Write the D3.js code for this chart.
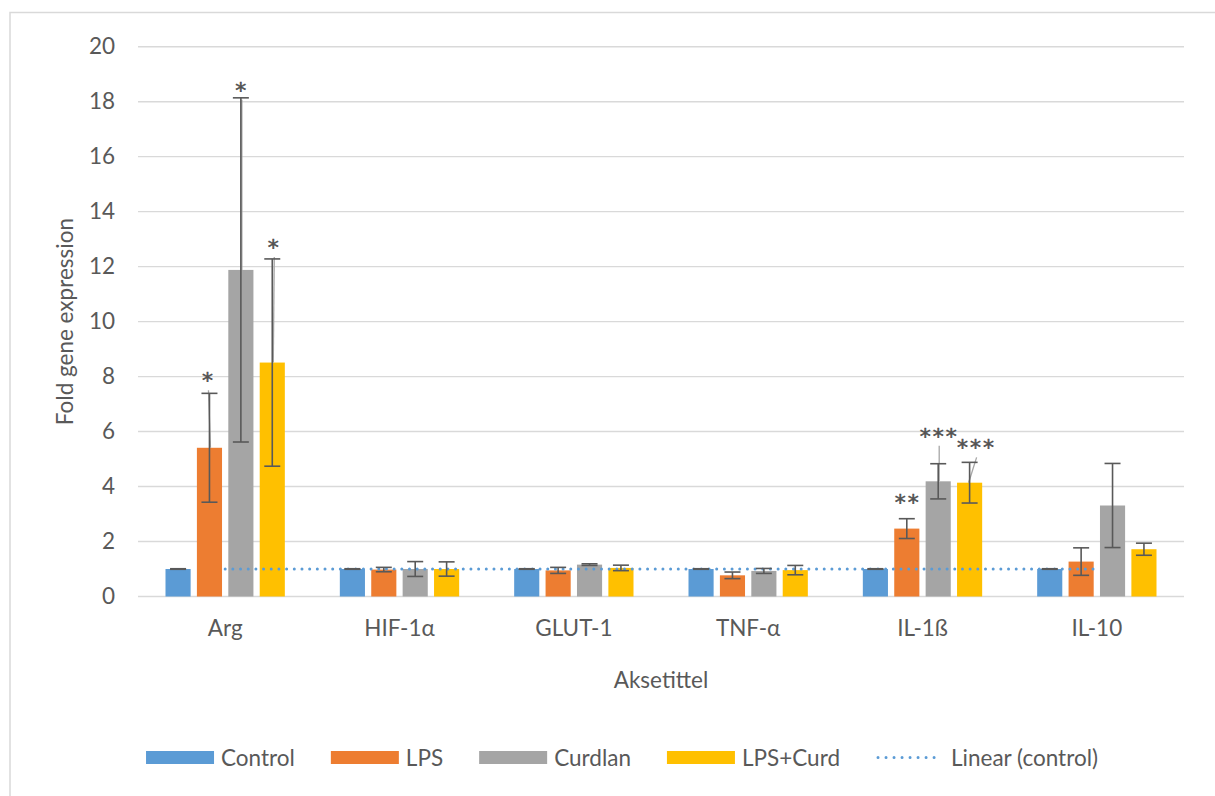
<!DOCTYPE html>
<html>
<head>
<meta charset="utf-8">
<script src="https://cdn.jsdelivr.net/npm/d3@7"></script>
<style>
  html, body { margin: 0; padding: 0; background: #fff; }
  svg { display: block; }
  text { font-family: Lato, "Open Sans", sans-serif; fill: #595959; }
</style>
</head>
<body>
<svg id="chart" width="1215" height="796"></svg>
<script>
// Gene expression data (fold change vs. control)
const genes = ["Arg", "HIF-1\u03b1", "GLUT-1", "TNF-\u03b1", "IL-1\u00df", "IL-10"];
const seriesNames = ["Control", "LPS", "Curdlan", "LPS+Curd"];

const controlVals = [1.0, 1.0, 1.0, 1.0, 1.0, 1.0];
const lpsVals     = [5.41, 0.98, 0.95, 0.77, 2.47, 1.27];
const curdlanVals = [11.88, 1.0, 1.16, 0.93, 4.19, 3.31];
const lpsCurdVals = [8.51, 1.0, 1.04, 0.96, 4.14, 1.72];

// Error bar half-widths (±)
const controlErr = [0.01, 0.01, 0.01, 0.01, 0.01, 0.01];
const lpsErr     = [1.98, 0.08, 0.11, 0.12, 0.36, 0.50];
const curdlanErr = [6.26, 0.27, 0.03, 0.09, 0.64, 1.53];
const lpsCurdErr = [3.77, 0.26, 0.10, 0.17, 0.74, 0.22];

// Significance labels per series / gene
const controlSig = ["", "", "", "", "", ""];
const lpsSig     = ["*", "", "", "", "**", ""];
const curdlanSig = ["*", "", "", "", "***", ""];
const lpsCurdSig = ["*", "", "", "", "***", ""];

const yTicks = [0, 2, 4, 6, 8, 10, 12, 14, 16, 18, 20];

const colors = ["#5B9BD5", "#ED7D31", "#A5A5A5", "#FFC000"];
const values = [controlVals, lpsVals, curdlanVals, lpsCurdVals];
const errors = [controlErr, lpsErr, curdlanErr, lpsCurdErr];
const sigs   = [controlSig, lpsSig, curdlanSig, lpsCurdSig];

// Label nudges (px) for significance marks: [dx, dy] relative to default spot
const sigNudge = {
  "0-1": [-2, -1], "0-2": [0, 4], "0-3": [1, 0],
  "4-1": [0, -5], "4-2": [0, -16], "4-3": [6, -3]
};

const FONT = "Lato, 'Open Sans', sans-serif";
const FS = "22.5px";

const svg = d3.select("#chart");
const m = { left: 138, right: 1184, top: 46.7, bottom: 596.5 };

// Chart frame
svg.append("rect")
  .attr("x", 10).attr("y", 12.5)
  .attr("width", 1230).attr("height", 800)
  .attr("fill", "none").attr("stroke", "#d9d9d9").attr("stroke-width", 1.5);

const x = d3.scaleBand().domain(genes).range([m.left, m.right]).paddingInner(0).paddingOuter(0);
const y = d3.scaleLinear().domain([0, 20]).range([m.bottom, m.top]);

const groupPad = 27.5;
const xs = d3.scaleBand().domain(seriesNames)
  .range([groupPad, x.bandwidth() - groupPad]).paddingInner(0.2).paddingOuter(0);

// Gridlines
svg.append("g").selectAll("line").data(yTicks).join("line")
  .attr("x1", m.left).attr("x2", m.right)
  .attr("y1", d => y(d)).attr("y2", d => y(d))
  .attr("stroke", "#d9d9d9").attr("stroke-width", 1.4);

// Y axis tick labels
const yAxis = d3.axisLeft(y).tickValues(yTicks).tickSize(0).tickPadding(23);
const ya = svg.append("g").attr("transform", `translate(${m.left},0)`).call(yAxis);
ya.select(".domain").remove();
ya.selectAll("text").style("font-size", FS).attr("fill", "#595959").style("font-family", FONT);

// X axis category labels
const xAxis = d3.axisBottom(x).tickSize(0).tickPadding(24);
const xa = svg.append("g").attr("transform", `translate(0,${m.bottom})`).call(xAxis);
xa.select(".domain").remove();
xa.selectAll("text").style("font-size", FS).attr("fill", "#595959").style("font-family", FONT);

// Bars
const rows = [];
genes.forEach((g, gi) => {
  seriesNames.forEach((s, si) => {
    rows.push({ gene: g, gi, si, v: values[si][gi], e: errors[si][gi], sig: sigs[si][gi] });
  });
});
const bx = d => x(d.gene) + xs(seriesNames[d.si]);
const bc = d => bx(d) + xs.bandwidth() / 2;

svg.append("g").selectAll("rect").data(rows).join("rect")
  .attr("x", bx).attr("width", xs.bandwidth())
  .attr("y", d => y(d.v)).attr("height", d => y(0) - y(d.v))
  .attr("fill", d => colors[d.si]);

// Leader lines for significance labels
const labelPos = d => {
  const n = sigNudge[d.gi + "-" + d.si] || [0, 0];
  return [bc(d) + n[0], y(d.v + d.e) - 16 + n[1]];
};
const withSig = rows.filter(d => d.sig);
svg.append("g").selectAll("line").data(withSig.filter(d => d.si !== 1 || d.gi === 0)).join("line")
  .attr("x1", d => labelPos(d)[0] + 1).attr("y1", d => labelPos(d)[1] + 14)
  .attr("x2", d => bc(d) + (d.gi === 4 && d.si === 3 ? -1 : 1)).attr("y2", d => y(d.v))
  .attr("stroke", "#a6a6a6").attr("stroke-width", 1.3);

// Trendline for control (least-squares linear fit over category index)
const n = controlVals.length;
const xm = d3.mean(d3.range(n)), ym = d3.mean(controlVals);
const sxy = d3.sum(d3.range(n), i => (i - xm) * (controlVals[i] - ym));
const sxx = d3.sum(d3.range(n), i => (i - xm) ** 2);
const slope = sxx ? sxy / sxx : 0;
const icpt = ym - slope * xm;
const cx = i => x(genes[i]) + x.bandwidth() / 2;
svg.append("line")
  .attr("x1", cx(0)).attr("y1", y(icpt))
  .attr("x2", cx(n - 1)).attr("y2", y(icpt + slope * (n - 1)))
  .attr("stroke", "#5B9BD5").attr("stroke-width", 3)
  .attr("stroke-linecap", "round").attr("stroke-dasharray", "0.01,7.67");

// Error bars
const eb = svg.append("g").attr("stroke", "#595959").attr("stroke-width", 1.6);
rows.forEach(d => {
  const c = bc(d), t = y(d.v + d.e), b = y(d.v - d.e);
  eb.append("line").attr("x1", c).attr("x2", c).attr("y1", t).attr("y2", b);
  eb.append("line").attr("x1", c - 8).attr("x2", c + 8).attr("y1", t).attr("y2", t);
  eb.append("line").attr("x1", c - 8).attr("x2", c + 8).attr("y1", b).attr("y2", b);
});

// Significance labels: one star glyph per character, evenly spaced
const starStep = 13;
const sigG = svg.append("g");
withSig.forEach(d => {
  const [lx, ly] = labelPos(d);
  const k = d.sig.length;
  d3.range(k).forEach(j => {
    sigG.append("text")
      .attr("x", lx + (j - (k - 1) / 2) * starStep).attr("y", ly + 12)
      .attr("text-anchor", "middle")
      .style("font-family", "'DejaVu Sans', sans-serif")
      .style("font-size", "22px")
      .attr("fill", "#404040")
      .attr("stroke", "#404040").attr("stroke-width", 0.5)
      .text(d.sig[j]);
  });
});

// Axis titles
svg.append("text")
  .attr("x", (m.left + m.right) / 2).attr("y", 688)
  .attr("text-anchor", "middle").style("font-size", FS)
  .text("Aksetittel");
svg.append("text")
  .attr("transform", `translate(73,${(m.top + m.bottom) / 2}) rotate(-90)`)
  .attr("text-anchor", "middle").style("font-size", FS)
  .text("Fold gene expression");

// Legend
const legendItems = seriesNames.map((s, i) => ({ name: s, color: colors[i], type: "bar" }))
  .concat([{ name: "Linear (control)", color: "#5B9BD5", type: "line" }]);
const lg = svg.append("g");
let cursor = 0;
const legendY = 757.5;
legendItems.forEach(it => {
  const g = lg.append("g").attr("transform", `translate(${cursor},0)`);
  if (it.type === "bar") {
    g.append("rect").attr("x", 0).attr("y", legendY - 6.5).attr("width", 68).attr("height", 13)
      .attr("fill", it.color);
  } else {
    g.append("line").attr("x1", 2).attr("x2", 66).attr("y1", legendY).attr("y2", legendY)
      .attr("stroke", it.color).attr("stroke-width", 3)
      .attr("stroke-linecap", "round").attr("stroke-dasharray", "0.01,8");
  }
  const t = g.append("text").attr("x", 75).attr("y", legendY + 8)
    .style("font-size", FS).text(it.name);
  cursor += 75 + t.node().getComputedTextLength() + 36;
});
const total = cursor - 36;
lg.attr("transform", `translate(${622 - total / 2},0)`);
</script>
</body>
</html>
